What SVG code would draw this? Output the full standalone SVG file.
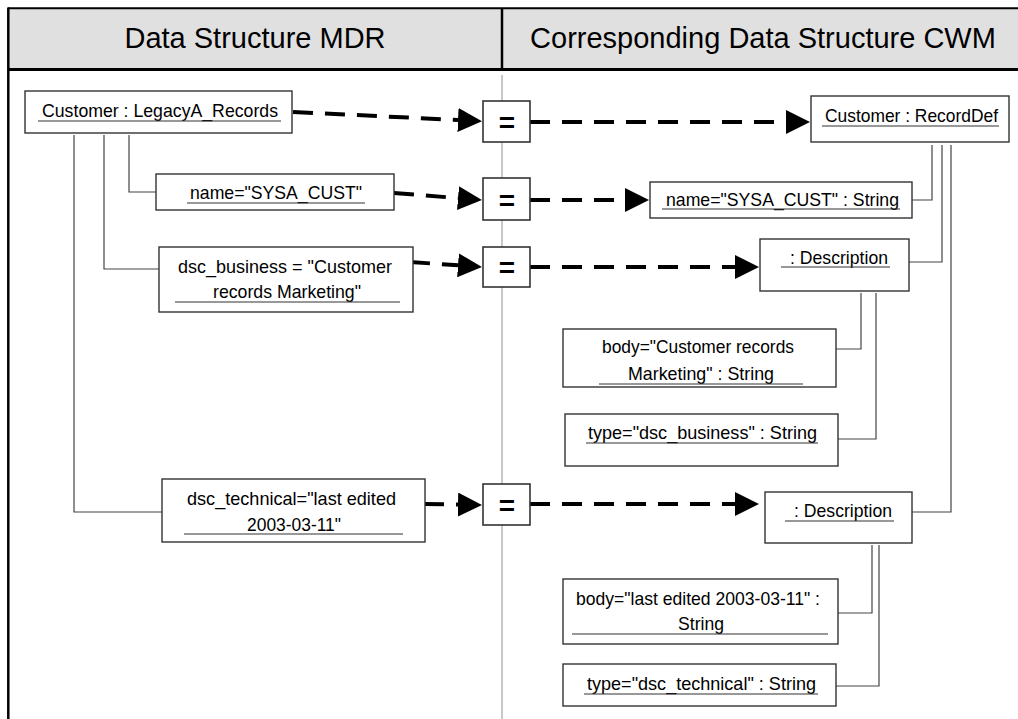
<svg xmlns="http://www.w3.org/2000/svg" width="1018" height="719" viewBox="0 0 1018 719">
<style>
.hdr{fill:#e0e0e0;stroke:none}
.frame{stroke:#000;fill:none}
.ht{font-family:"Liberation Sans",Arial,sans-serif;font-size:29px;fill:#000;text-anchor:middle}
.box{fill:#fff;stroke:#333;stroke-width:1.4}
.t{font-family:"Liberation Sans",Arial,sans-serif;font-size:19px;fill:#000}
.ul{stroke:#333;stroke-width:1.2}
.conn{fill:none;stroke:#444;stroke-width:1.2}
.dash{fill:none;stroke:#000;stroke-width:4;stroke-dasharray:20 12}
.eqb{fill:#fff;stroke:#333;stroke-width:1.6}
.eqt{font-family:"Liberation Sans",Arial,sans-serif;font-size:28px;font-weight:bold;fill:#000;text-anchor:middle}
</style>
<defs>
<marker id="ah" markerUnits="userSpaceOnUse" markerWidth="24" markerHeight="24" viewBox="0 0 24 24" refX="0" refY="12" orient="auto">
<path d="M0,0 L24,12 L0,24 Z" fill="#000"/>
</marker>
</defs>
<rect width="1018" height="719" fill="#fff"/>
<g id="frame">
<rect class="hdr" x="8" y="8" width="1010" height="62"/>
<line x1="502" y1="75" x2="502" y2="719" stroke="#c8c8c8" stroke-width="2"/>
<line class="frame" x1="8" y1="8.3" x2="1018" y2="8.3" stroke-width="2"/>
<line class="frame" x1="8" y1="69.5" x2="1018" y2="69.5" stroke-width="3"/>
<line class="frame" x1="8.3" y1="7.5" x2="8.3" y2="719" stroke-width="2.5"/>
<line class="frame" x1="502" y1="8" x2="502" y2="70" stroke-width="2.5"/>
<text class="ht" x="255" y="48">Data Structure MDR</text>
<text class="ht" x="763" y="48">Corresponding Data Structure CWM</text>
</g>
<g id="connectors">
<path class="conn" d="M129,135 V192 H156"/>
<path class="conn" d="M104,135 V269 H159"/>
<path class="conn" d="M74,135 V512 H162"/>
<path class="conn" d="M932,145 V200 H912"/>
<path class="conn" d="M942,145 V262 H909"/>
<path class="conn" d="M951,145 V512 H912"/>
<path class="conn" d="M861,293 V349 H836"/>
<path class="conn" d="M876,293 V439 H838"/>
<path class="conn" d="M872,545 V613 H838"/>
<path class="conn" d="M879,545 V686 H836"/>
<path class="dash" d="M293,112 L458,120" marker-end="url(#ah)"/>
<path class="dash" d="M394,193 L458,198.1" marker-end="url(#ah)"/>
<path class="dash" d="M410,262 L458,265.3" marker-end="url(#ah)"/>
<path class="dash" d="M424,504 L458,504.6" marker-end="url(#ah)"/>
<path class="dash" d="M530,122 L786,122" marker-end="url(#ah)"/>
<path class="dash" d="M530,200 L625,200" marker-end="url(#ah)"/>
<path class="dash" d="M530,267 L735,267" marker-end="url(#ah)"/>
<path class="dash" d="M530,504 L735,504" marker-end="url(#ah)"/>
</g>
<g id="eq1"><rect class="eqb" x="483" y="101" width="47" height="41"/><text class="eqt" x="507" y="132">=</text></g>
<g id="eq2"><rect class="eqb" x="483" y="178" width="47" height="42"/><text class="eqt" x="507" y="210">=</text></g>
<g id="eq3"><rect class="eqb" x="483" y="247" width="47" height="40"/><text class="eqt" x="507" y="277">=</text></g>
<g id="eq4"><rect class="eqb" x="483" y="484" width="47" height="41"/><text class="eqt" x="507" y="515">=</text></g>
<g id="n1"><rect class="box" x="25" y="91" width="267" height="42"/>
<text class="t" x="42" y="117" textLength="236" lengthAdjust="spacingAndGlyphs">Customer : LegacyA_Records</text>
<line class="ul" x1="38" y1="121" x2="281" y2="121"/></g>
<g id="n2"><rect class="box" x="156" y="174" width="238" height="36"/>
<text class="t" x="190" y="199" textLength="172" lengthAdjust="spacingAndGlyphs">name="SYSA_CUST"</text>
<line class="ul" x1="187" y1="203" x2="365" y2="203"/></g>
<g id="n3"><rect class="box" x="159" y="247" width="254" height="65"/>
<text class="t" x="178" y="273" textLength="214" lengthAdjust="spacingAndGlyphs">dsc_business = "Customer</text>
<text class="t" x="213" y="298" textLength="148" lengthAdjust="spacingAndGlyphs">records Marketing"</text>
<line class="ul" x1="175" y1="302" x2="400" y2="302"/></g>
<g id="n4"><rect class="box" x="162" y="479" width="263" height="63"/>
<text class="t" x="187" y="505" textLength="209" lengthAdjust="spacingAndGlyphs">dsc_technical="last edited</text>
<text class="t" x="247" y="531" textLength="94" lengthAdjust="spacingAndGlyphs">2003-03-11"</text>
<line class="ul" x1="184" y1="534" x2="403" y2="534"/></g>
<g id="n5"><rect class="box" x="811" y="96" width="198" height="46"/>
<text class="t" x="825" y="122" textLength="173" lengthAdjust="spacingAndGlyphs">Customer : RecordDef</text>
<line class="ul" x1="822" y1="126" x2="999" y2="126"/></g>
<g id="n6"><rect class="box" x="650" y="182" width="262" height="36"/>
<text class="t" x="666" y="206" textLength="233" lengthAdjust="spacingAndGlyphs">name="SYSA_CUST" : String</text>
<line class="ul" x1="662" y1="209" x2="900" y2="209"/></g>
<g id="n7"><rect class="box" x="760" y="239" width="149" height="52"/>
<text class="t" x="790" y="264" textLength="98" lengthAdjust="spacingAndGlyphs">: Description</text>
<line class="ul" x1="781" y1="267" x2="890" y2="267"/></g>
<g id="n8"><rect class="box" x="563" y="329" width="273" height="58"/>
<text class="t" x="602" y="353" textLength="192" lengthAdjust="spacingAndGlyphs">body="Customer records</text>
<text class="t" x="628" y="380" textLength="146" lengthAdjust="spacingAndGlyphs">Marketing" : String</text>
<line class="ul" x1="599" y1="384" x2="803" y2="384"/></g>
<g id="n9"><rect class="box" x="565" y="414" width="273" height="52"/>
<text class="t" x="588" y="439" textLength="229" lengthAdjust="spacingAndGlyphs">type="dsc_business" : String</text>
<line class="ul" x1="586" y1="443" x2="818" y2="443"/></g>
<g id="n10"><rect class="box" x="765" y="492" width="147" height="51"/>
<text class="t" x="794" y="517" textLength="98" lengthAdjust="spacingAndGlyphs">: Description</text>
<line class="ul" x1="785" y1="521" x2="894" y2="521"/></g>
<g id="n11"><rect class="box" x="563" y="579" width="275" height="65"/>
<text class="t" x="576" y="605" textLength="244" lengthAdjust="spacingAndGlyphs">body="last edited 2003-03-11" :</text>
<text class="t" x="678" y="630" textLength="46" lengthAdjust="spacingAndGlyphs">String</text>
<line class="ul" x1="572" y1="634" x2="828" y2="634"/></g>
<g id="n12"><rect class="box" x="563" y="664" width="273" height="42"/>
<text class="t" x="587" y="690" textLength="229" lengthAdjust="spacingAndGlyphs">type="dsc_technical" : String</text>
<line class="ul" x1="584" y1="694" x2="818" y2="694"/></g>
</svg>
